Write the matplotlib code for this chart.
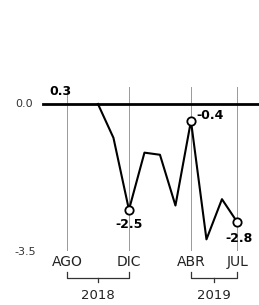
import numpy as np
import matplotlib.pyplot as plt

# meses AGO 2018 .. JUL 2019
meses = ['AGO', 'SEP', 'OCT', 'NOV', 'DIC', 'ENE', 'FEB', 'MAR', 'ABR', 'MAY', 'JUN', 'JUL']
valores = [np.nan, np.nan, 0.0, -0.8, -2.5, -1.15, -1.2, -2.4, -0.4, -3.2, -2.25, -2.8]
marcados = ['DIC', 'ABR', 'JUL']
etiquetas_mes = ['AGO', 'DIC', 'ABR', 'JUL']
anios = [('2018', 'AGO', 'DIC'), ('2019', 'ABR', 'JUL')]

x = np.arange(len(meses))
pos = dict(zip(meses, x))
val = dict(zip(meses, valores))

fig = plt.figure(figsize=(2.59, 3.05), dpi=100)
ax = fig.add_axes([0, 0, 1, 1])
ax.set_xlim(-4.32, 12.39)
ax.set_ylim(-4.752, 2.459)
ax.axis('off')

# lineas verticales guia
for m in etiquetas_mes:
    ax.plot([pos[m], pos[m]], [0.4, -3.45], color='#999999', lw=0.7, zorder=1)

# eje cero
ax.plot([-1.55, 12.5], [0, 0], color='black', lw=2, zorder=2)

# serie
ax.plot(x, valores, color='black', lw=1.5, zorder=3)
for m in marcados:
    ax.plot(pos[m], val[m], 'o', ms=6, mfc='white', mec='black', mew=1.3, zorder=4)

ax.text(pos['DIC'], -2.86, '-2.5', ha='center', va='center', fontsize=9, fontweight='bold')
ax.text(pos['ABR'] + 0.35, -0.28, '-0.4', ha='left', va='center', fontsize=9, fontweight='bold')
ax.text(pos['JUL'] + 0.1, -3.19, '-2.8', ha='center', va='center', fontsize=9, fontweight='bold')
ax.text(pos['AGO'] - 0.45, 0.3, '0.3', ha='center', va='center', fontsize=9, fontweight='bold')

# etiquetas del eje y
ax.text(-2.75, 0.0, '0.0', ha='center', va='center', fontsize=8, color='#333333')
ax.text(-2.7, -3.5, '-3.5', ha='center', va='center', fontsize=8, color='#333333')

# meses
for m in etiquetas_mes:
    ax.text(pos[m], -3.73, m, ha='center', va='center', fontsize=10, color='#222222')

# corchetes de años
for anio, ini, fin in anios:
    x0, x1 = pos[ini], pos[fin]
    xc = (x0 + x1) / 2
    ax.plot([x0, x0, x1, x1], [-3.97, -4.11, -4.11, -3.97], color='#333333', lw=0.9)
    ax.plot([xc, xc], [-4.11, -4.22], color='#333333', lw=0.9)
    ax.text(xc, -4.52, anio, ha='center', va='center', fontsize=9.5, color='#222222')

fig.savefig('out.png', dpi=100)
